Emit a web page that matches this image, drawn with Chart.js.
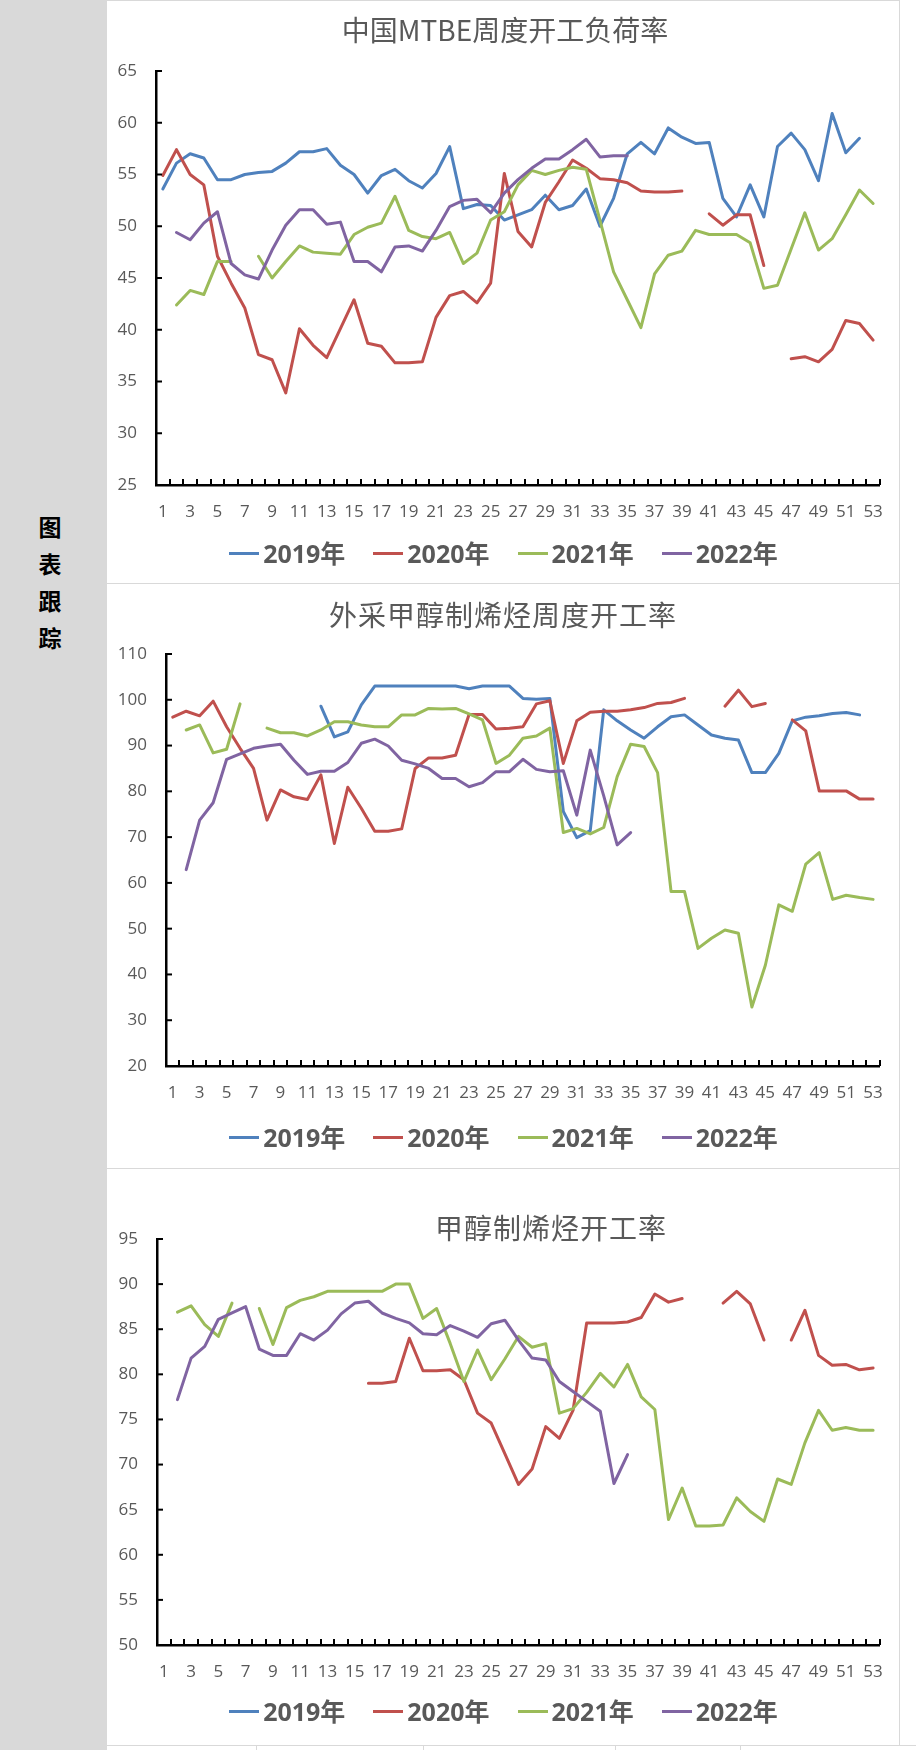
<!DOCTYPE html>
<html lang="zh">
  <head>
    <meta charset="UTF-8" />
    <title>图表跟踪</title>
    <script src="https://cdn.jsdelivr.net/npm/chart.js@4"></script>
    <style>
      body {
        margin: 0;
        width: 916px;
        height: 1750px;
        position: relative;
        overflow: hidden;
        background: #fff;
        font-family: "Noto Sans CJK SC", sans-serif;
      }
      #strip {
        position: absolute;
        left: 0;
        top: 0;
        width: 107px;
        height: 1750px;
        background: #d9d9d9;
      }
      #stripText {
        position: absolute;
        left: 0;
        top: 508px;
        width: 100px;
        text-align: center;
        font-size: 23px;
        font-weight: bold;
        line-height: 37px;
        color: #000;
      }
      .panel {
        position: absolute;
        left: 107px;
      }
      .title {
        position: absolute;
        transform: translateX(-50%);
        white-space: nowrap;
        font-size: 28px;
        line-height: 28px;
        color: #595959;
      }
      .legend {
        position: absolute;
        left: 107px;
        width: 793px;
        display: flex;
        justify-content: center;
        gap: 28px;
        font-family: "Open Sans", "Noto Sans CJK SC", sans-serif;
        font-size: 25px;
        font-weight: bold;
        line-height: 30px;
        color: #595959;
      }
      .legendItem {
        display: flex;
        align-items: center;
      }
      .swatch {
        width: 30px;
        height: 3px;
        margin-right: 4px;
      }
      .rule {
        position: absolute;
        background: #d9d9d9;
      }
    </style>
  </head>
  <body>
    <div id="strip"></div>
    <div id="stripText">图<br />表<br />跟<br />踪</div>

    <canvas id="mtbeChart" class="panel" style="top: 0" width="793" height="583"></canvas>
    <canvas id="outsideChart" class="panel" style="top: 583px" width="793" height="585"></canvas>
    <canvas id="olefinChart" class="panel" style="top: 1168px" width="793" height="577"></canvas>

    <div class="title" style="left: 505px; top: 15px">中国MTBE周度开工负荷率</div>
    <div class="title" style="left: 503px; top: 600px; letter-spacing: 1px">外采甲醇制烯烃周度开工率</div>
    <div class="title" style="left: 551px; top: 1213px; letter-spacing: 1px">甲醇制烯烃开工率</div>

    <div id="mtbeLegend" class="legend" style="top: 538px"></div>
    <div id="outsideLegend" class="legend" style="top: 1122px"></div>
    <div id="olefinLegend" class="legend" style="top: 1696px"></div>

    <div class="rule" style="left: 107px; top: 0; width: 793px; height: 1px"></div>
    <div class="rule" style="left: 107px; top: 583px; width: 793px; height: 1px"></div>
    <div class="rule" style="left: 107px; top: 1168px; width: 793px; height: 1px"></div>
    <div class="rule" style="left: 107px; top: 1745px; width: 809px; height: 1px"></div>
    <div class="rule" style="left: 899px; top: 0; width: 1px; height: 1745px"></div>
    <div class="rule" style="left: 256px; top: 1745px; width: 1px; height: 5px"></div>
    <div class="rule" style="left: 423px; top: 1745px; width: 1px; height: 5px"></div>
    <div class="rule" style="left: 615px; top: 1745px; width: 1px; height: 5px"></div>
    <div class="rule" style="left: 740px; top: 1745px; width: 1px; height: 5px"></div>

    <script>
      const weeks = [
        "1", "2", "3", "4", "5", "6", "7", "8", "9", "10",
        "11", "12", "13", "14", "15", "16", "17", "18", "19", "20",
        "21", "22", "23", "24", "25", "26", "27", "28", "29", "30",
        "31", "32", "33", "34", "35", "36", "37", "38", "39", "40",
        "41", "42", "43", "44", "45", "46", "47", "48", "49", "50",
        "51", "52", "53",
      ];
      const seriesNames = ["2019年", "2020年", "2021年", "2022年"];
      const seriesColors = ["#4F81BD", "#C0504D", "#9BBB59", "#8064A2"];

      // 中国MTBE周度开工负荷率
      const mtbe2019 = [
        53.6, 56.1, 57.0, 56.6, 54.5, 54.5, 55.0, 55.2, 55.3, 56.1,
        57.2, 57.2, 57.5, 55.9, 55.0, 53.2, 54.9, 55.5, 54.4, 53.7,
        55.1, 57.7, 51.7, 52.1, 52.0, 50.6, 51.1, 51.6, 53.0, 51.6,
        52.0, 53.6, 50.0, 52.7, 57.0, 58.1, 57.0, 59.5, 58.6, 58.0,
        58.1, 52.7, 50.9, 54.0, 50.9, 57.7, 59.0, 57.4, 54.4, 60.9,
        57.1, 58.5, null,
      ];
      const mtbe2020 = [
        54.9, 57.4, 55.0, 54.0, 47.1, 44.5, 42.1, 37.6, 37.1, 33.9,
        40.1, 38.5, 37.3, 40.1, 42.9, 38.7, 38.4, 36.8, 36.8, 36.9,
        41.2, 43.3, 43.7, 42.6, 44.5, 55.1, 49.5, 48.0, 52.3, 54.3,
        56.4, 55.6, 54.6, 54.5, 54.2, 53.4, 53.3, 53.3, 53.4, null,
        51.2, 50.1, 51.1, 51.1, 46.2, null, 37.2, 37.4, 36.9, 38.1,
        40.9, 40.6, 39.0,
      ];
      const mtbe2021 = [
        null, 42.4, 43.8, 43.4, 46.6, 46.6, null, 47.1, 45.0, 46.6,
        48.1, 47.5, 47.4, 47.3, 49.2, 49.9, 50.3, 52.9, 49.6, 49.0,
        48.8, 49.4, 46.4, 47.4, 50.6, 51.4, 54.0, 55.4, 55.0, 55.4,
        55.7, 55.5, 50.6, 45.6, 42.9, 40.2, 45.4, 47.2, 47.6, 49.6,
        49.2, 49.2, 49.2, 48.4, 44.0, 44.3, 47.8, 51.3, 47.7, 48.8,
        51.1, 53.5, 52.2,
      ];
      const mtbe2022 = [
        null, 49.4, 48.7, 50.3, 51.4, 46.4, 45.3, 44.9, 47.7, 50.1,
        51.6, 51.6, 50.2, 50.4, 46.6, 46.6, 45.6, 48.0, 48.1, 47.6,
        49.6, 51.9, 52.5, 52.6, 51.3, 53.2, 54.5, 55.6, 56.5, 56.5,
        57.4, 58.4, 56.7, 56.8, 56.8,
      ];

      // 外采甲醇制烯烃周度开工率
      const outside2019 = [
        null, null, null, null, null, null, null, null, null, null,
        null, 98.6, 91.9, 93.0, 98.9, 103.0, 103.0, 103.0, 103.0, 103.0,
        103.0, 103.0, 102.4, 103.0, 103.0, 103.0, 100.3, 100.1, 100.3, 75.6,
        69.9, 71.4, 97.8, 95.4, 93.4, 91.6, 94.1, 96.3, 96.7, 94.5,
        92.3, 91.6, 91.2, 84.1, 84.1, 88.3, 95.4, 96.2, 96.5, 97.0,
        97.2, 96.7, null,
      ];
      const outside2020 = [
        96.2, 97.5, 96.5, 99.7, 94.1, 89.4, 85.0, 73.7, 80.3, 78.8,
        78.2, 83.6, 68.6, 80.9, 76.3, 71.3, 71.3, 71.8, 85.0, 87.3,
        87.3, 87.9, 96.8, 96.8, 93.6, 93.8, 94.1, 99.1, 99.8, 86.1,
        95.4, 97.3, 97.5, 97.5, 97.8, 98.3, 99.2, 99.4, 100.3, null,
        null, 98.6, 102.1, 98.5, 99.2, null, 95.6, 93.2, 80.1, 80.1,
        80.1, 78.3, 78.3,
      ];
      const outside2021 = [
        null, 93.4, 94.5, 88.4, 89.2, 99.1, null, 93.8, 92.8, 92.8,
        92.1, 93.4, 95.2, 95.2, 94.5, 94.1, 94.1, 96.7, 96.7, 98.1,
        98.0, 98.1, 96.9, 95.6, 86.1, 87.9, 91.6, 92.1, 93.8, 71.0,
        71.9, 70.7, 72.1, 83.2, 90.3, 89.8, 84.1, 58.1, 58.1, 45.7,
        47.9, 49.7, 49.0, 32.9, 42.0, 55.2, 53.8, 64.1, 66.6, 56.4,
        57.3, 56.8, 56.4,
      ];
      const outside2022 = [
        null, 62.9, 73.7, 77.5, 87.0, 88.2, 89.4, 89.9, 90.3, 86.8,
        83.7, 84.4, 84.4, 86.3, 90.5, 91.4, 89.9, 86.8, 86.0, 85.0,
        82.8, 82.8, 81.0, 81.9, 84.3, 84.3, 87.0, 84.8, 84.3, 84.5,
        74.8, 89.0, 79.0, 68.3, 71.0,
      ];

      // 甲醇制烯烃开工率
      const olefin2019 = [];
      const olefin2020 = [
        null, null, null, null, null, null, null, null, null, null,
        null, null, null, null, null, 79.0, 79.0, 79.2, 84.0, 80.4,
        80.4, 80.5, 79.4, 75.7, 74.6, 71.2, 67.8, 69.5, 74.2, 72.9,
        76.0, 85.7, 85.7, 85.7, 85.8, 86.3, 88.9, 88.0, 88.4, null,
        null, 87.9, 89.2, 87.8, 83.8, null, 83.8, 87.1, 82.1, 81.0,
        81.1, 80.5, 80.7,
      ];
      const olefin2021 = [
        null, 86.9, 87.6, 85.5, 84.2, 87.9, null, 87.3, 83.3, 87.4,
        88.2, 88.6, 89.2, 89.2, 89.2, 89.2, 89.2, 90.0, 90.0, 86.2,
        87.3, 83.4, 79.2, 82.7, 79.4, 81.7, 84.2, 83.0, 83.4, 75.7,
        76.2, 78.0, 80.1, 78.6, 81.1, 77.5, 76.1, 63.9, 67.4, 63.2,
        63.2, 63.3, 66.3, 64.8, 63.7, 68.4, 67.8, 72.4, 76.0, 73.8,
        74.1, 73.8, 73.8,
      ];
      const olefin2022 = [
        null, 77.2, 81.8, 83.1, 86.1, 86.8, 87.5, 82.8, 82.1, 82.1,
        84.5, 83.8, 84.9, 86.7, 87.9, 88.1, 86.8, 86.2, 85.7, 84.5,
        84.4, 85.4, 84.8, 84.1, 85.6, 86.0, 83.8, 81.8, 81.6, 79.2,
        78.1, 77.0, 75.9, 67.9, 71.1,
      ];

      const textGrey = "#595959";
      const tickFont = { family: '"Open Sans", sans-serif', size: 17 };

      // Excel style tick marks that point into the plot
      const innerTicks = {
        id: "innerTicks",
        afterDraw(chart) {
          const { ctx } = chart;
          const x = chart.scales.x;
          const y = chart.scales.y;
          const step = (x.right - x.left) / x.ticks.length;
          ctx.save();
          ctx.strokeStyle = "#000";
          ctx.lineWidth = 2;
          for (let k = 1; k <= x.ticks.length; k++) {
            const px = Math.round(x.left + k * step);
            ctx.beginPath();
            ctx.moveTo(px, y.bottom);
            ctx.lineTo(px, y.bottom - 6);
            ctx.stroke();
          }
          y.ticks.forEach((t) => {
            const py = y.getPixelForValue(t.value);
            ctx.beginPath();
            ctx.moveTo(x.left, py);
            ctx.lineTo(x.left + 6, py);
            ctx.stroke();
          });
          ctx.restore();
        },
      };

      // legend written as html under each chart, from the chart's own legend items
      const htmlLegend = {
        id: "htmlLegend",
        afterUpdate(chart, args, options) {
          const box = document.getElementById(options.containerId);
          box.innerHTML = "";
          const items = chart.options.plugins.legend.labels
            .generateLabels(chart)
            .sort((a, b) => a.datasetIndex - b.datasetIndex);
          items.forEach((item) => {
            const entry = document.createElement("span");
            entry.className = "legendItem";
            const swatch = document.createElement("span");
            swatch.className = "swatch";
            swatch.style.background = item.strokeStyle;
            const text = document.createElement("span");
            text.textContent = item.text;
            entry.append(swatch, text);
            box.appendChild(entry);
          });
        },
      };

      function createChart(canvasId, legendId, series, yAxis, frame) {
        const ctx = document.getElementById(canvasId).getContext("2d");
        return new Chart(ctx, {
          type: "line",
          data: {
            labels: weeks,
            datasets: series.map((data, i) => ({
              label: seriesNames[i],
              data: data,
              borderColor: seriesColors[i],
              backgroundColor: seriesColors[i],
              borderWidth: 3,
              pointRadius: 0,
              pointHoverRadius: 0,
              tension: 0,
              fill: false,
              borderJoinStyle: "round",
              borderCapStyle: "round",
              order: series.length - i,
            })),
          },
          options: {
            responsive: false,
            animation: false,
            devicePixelRatio: 1,
            layout: {
              padding: { top: 71, right: frame.right, bottom: 0, left: 0 },
            },
            scales: {
              x: {
                type: "category",
                offset: true,
                grid: {
                  offset: true,
                  drawOnChartArea: false,
                  drawTicks: false,
                },
                border: { color: "#000", width: 2.5 },
                ticks: {
                  autoSkip: false,
                  maxRotation: 0,
                  minRotation: 0,
                  padding: 17,
                  color: textGrey,
                  font: tickFont,
                  callback: (value, index) => (index % 2 === 0 ? weeks[index] : ""),
                },
                afterFit: (scale) => {
                  scale.height = frame.xHeight;
                },
              },
              y: {
                min: yAxis.min,
                max: yAxis.max,
                grid: { drawOnChartArea: false, drawTicks: false },
                border: { color: "#000", width: 2.5 },
                ticks: {
                  stepSize: yAxis.step,
                  padding: 19,
                  color: textGrey,
                  font: tickFont,
                },
                afterFit: (scale) => {
                  scale.width = frame.axisWidth;
                },
              },
            },
            plugins: {
              title: { display: false },
              tooltip: { enabled: false },
              legend: { display: false },
              htmlLegend: { containerId: legendId },
            },
          },
          plugins: [innerTicks, htmlLegend],
        });
      }

      createChart(
        "mtbeChart",
        "mtbeLegend",
        [mtbe2019, mtbe2020, mtbe2021, mtbe2022],
        { min: 25, max: 65, step: 5 },
        { right: 18, axisWidth: 49, xHeight: 98 }
      );
      createChart(
        "outsideChart",
        "outsideLegend",
        [outside2019, outside2020, outside2021, outside2022],
        { min: 20, max: 110, step: 10 },
        { right: 20, axisWidth: 59, xHeight: 102 }
      );
      createChart(
        "olefinChart",
        "olefinLegend",
        [olefin2019, olefin2020, olefin2021, olefin2022],
        { min: 50, max: 95, step: 5 },
        { right: 20, axisWidth: 50, xHeight: 100 }
      );
    </script>
  </body>
</html>
